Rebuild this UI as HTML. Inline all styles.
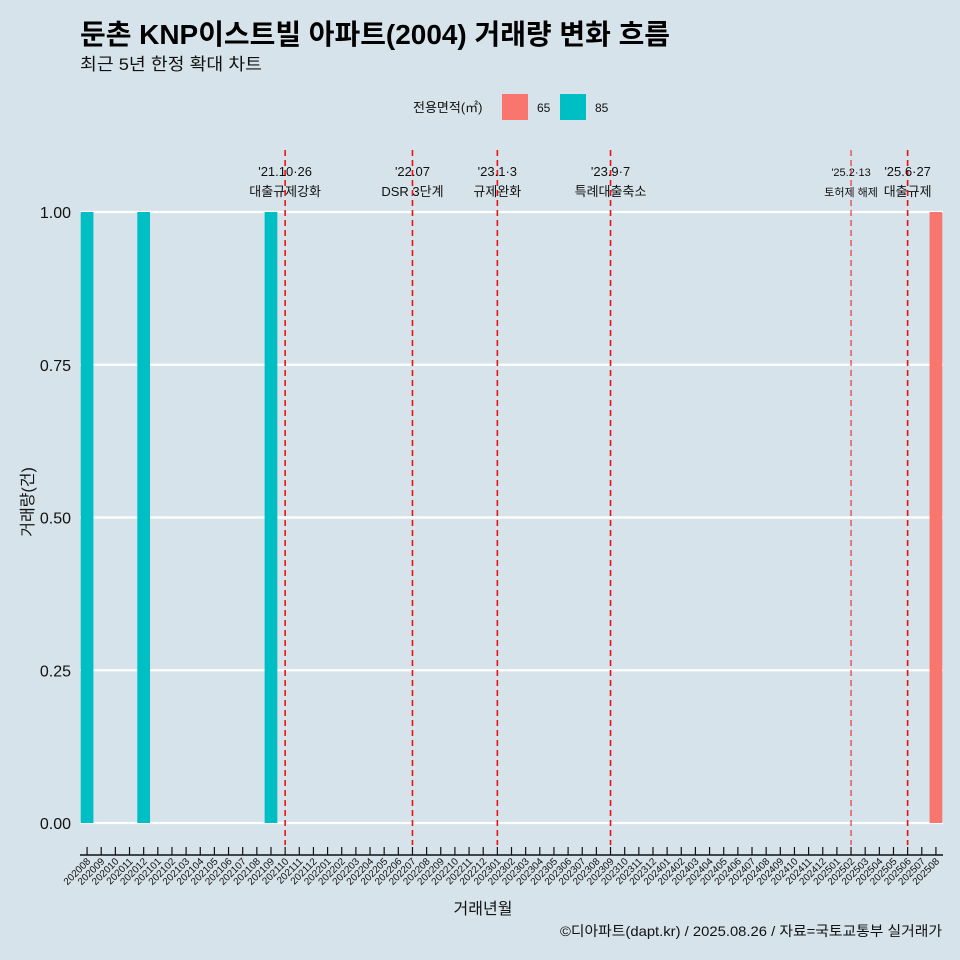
<!DOCTYPE html>
<html><head><meta charset="utf-8">
<style>
html,body{margin:0;padding:0;background:#d6e3ea;}
svg{display:block;font-family:"Liberation Sans","Noto Sans CJK KR",sans-serif;}
</style></head>
<body>
<svg id="chart" width="960" height="960" viewBox="0 0 960 960">
<rect width="960" height="960" fill="#d6e3ea"/>
<text x="80" y="44" font-size="28" font-weight="bold" fill="#000" textLength="590" lengthAdjust="spacingAndGlyphs">둔촌 KNP이스트빌 아파트(2004) 거래량 변화 흐름</text>
<text x="80" y="70" font-size="17" fill="#111" textLength="182" lengthAdjust="spacingAndGlyphs">최근 5년 한정 확대 차트</text>
<g>
<text x="413" y="112" font-size="13" fill="#111">전용면적(㎡)</text>
<rect x="502" y="94" width="26" height="26" fill="#f8766d"/>
<text x="537" y="112" font-size="12" fill="#111">65</text>
<rect x="560" y="94" width="26" height="26" fill="#00bfc4"/>
<text x="595" y="112" font-size="12" fill="#111">85</text>
</g>
<g id="plot"></g>
<text x="483" y="914" font-size="16" text-anchor="middle" fill="#111">거래년월</text>
<text transform="translate(33,502) rotate(-90)" font-size="16" text-anchor="middle" fill="#111">거래량(건)</text>
<text x="942" y="936" font-size="14" text-anchor="end" fill="#111" textLength="382" lengthAdjust="spacingAndGlyphs">©디아파트(dapt.kr) / 2025.08.26 / 자료=국토교통부 실거래가</text>
</svg>
<script>
const months = [];
for (let y = 2020; y <= 2025; y++) for (let m = 1; m <= 12; m++) {
  const k = y * 100 + m;
  if (k >= 202008 && k <= 202508) months.push(String(k));
}
const barMonths = ['202008','202012','202109','202508'];
const barValues = [1, 1, 1, 1];
const barAreas = ['85','85','85','65'];
const yTicks = [0, 0.25, 0.5, 0.75, 1];
const yTickLabels = ['0.00','0.25','0.50','0.75','1.00'];
const eventMonths = ['202110','202207','202301','202309','202502','202506'];
const eventDates = ["'21.10·26","'22.07","'23.1·3","'23.9·7","'25.2·13","'25.6·27"];
const eventLabels = ['대출규제강화','DSR 3단계','규제완화','특례대출축소','토허제 해제','대출규제'];

const NS = 'http://www.w3.org/2000/svg';
const plot = document.getElementById('plot');
const L = 80, R = 943, Y0 = 823, Y1 = 212;
const band = (R - L) / months.length;
const xs = m => L + band * (months.indexOf(m) + 0.5);
const ys = v => Y0 + (Y1 - Y0) * v;
const colors = {'65': '#f8766d', '85': '#00bfc4'};
function mk(tag, attrs) { const e = document.createElementNS(NS, tag); for (const k in attrs) e.setAttribute(k, attrs[k]); plot.appendChild(e); return e; }

yTicks.forEach((t, i) => {
  const g = mk('line', {x1: L, x2: R, y1: ys(t), y2: ys(t), stroke: '#fff', 'stroke-width': 2.2});
  
  
  const lb = mk('text', {x: 71, y: ys(t) + 6, 'font-size': 16, 'text-anchor': 'end', fill: '#111'});
  lb.textContent = yTickLabels[i];
  
  
});

barMonths.forEach((m, i) => {
  const w = band * 0.9;
  const b = mk('rect', {x: xs(m) - w / 2, y: ys(barValues[i]), width: w, height: Y0 - ys(barValues[i]), fill: colors[barAreas[i]]});
  
  
});

eventMonths.forEach((m, i) => {
  const x = xs(m);
  const thin = m === '202502';
  const ln = mk('line', {x1: x, x2: x, y1: 150, y2: 845, stroke: '#ee1111', 'stroke-width': thin ? 1 : 1.6, 'stroke-dasharray': '6,4'});
  
  
  const fs = thin ? 11 : 13;
  const t1 = mk('text', {x: x, y: 176, 'font-size': fs, 'text-anchor': 'middle', fill: '#111'});
  t1.textContent = eventDates[i];
  
  
  const t2 = mk('text', {x: x, y: 196, 'font-size': fs, 'text-anchor': 'middle', fill: '#111'});
  t2.textContent = eventLabels[i];
  
  
});

const ax = mk('line', {x1: L, x2: R, y1: 855, y2: 855, stroke: '#111', 'stroke-width': 1.4});


months.forEach(m => {
  const x = xs(m);
  const tk = mk('line', {x1: x, x2: x, y1: 847, y2: 855, stroke: '#111', 'stroke-width': 1.2});
  
  
  const lb = mk('text', {x: 0, y: 0, 'font-size': 10, 'text-anchor': 'end', fill: '#111', transform: 'translate(' + (x + 4) + ',862) rotate(-45)'});
  lb.textContent = m;
  
  
});
</script>
</body></html>
